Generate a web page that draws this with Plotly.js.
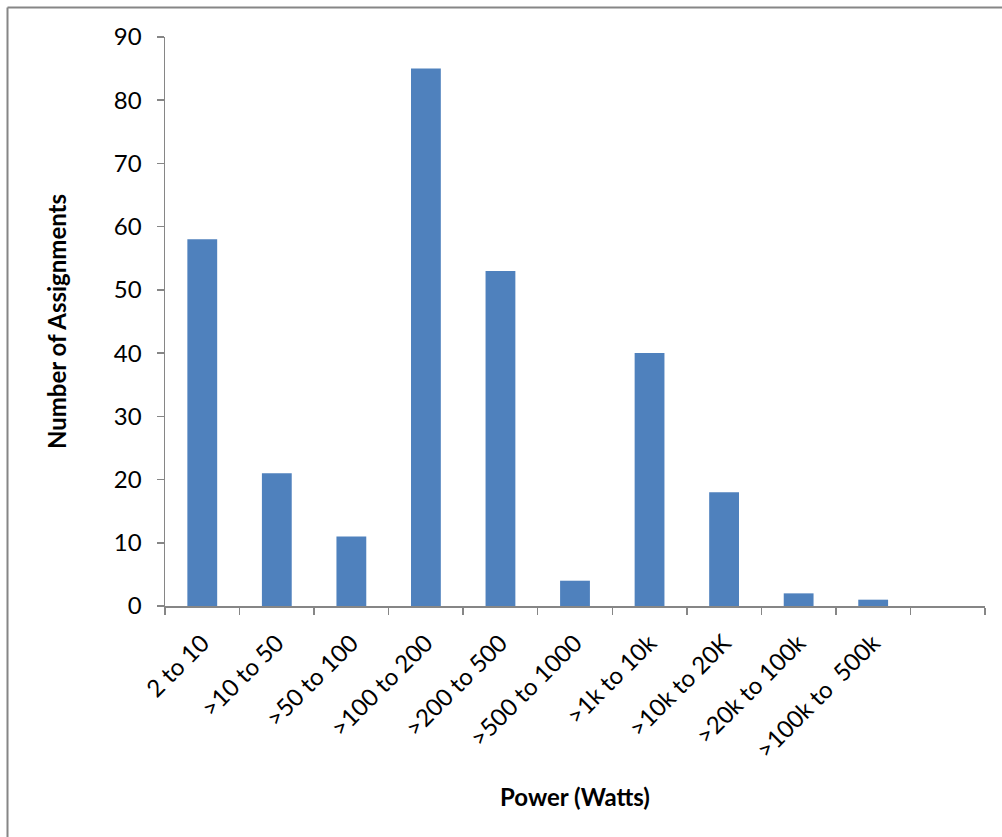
<!DOCTYPE html>
<html>
<head>
<meta charset="utf-8">
<script src="https://cdn.plot.ly/plotly-3.0.1.min.js"></script>
<style>
  html, body { margin: 0; padding: 0; background: #ffffff; }
  #chart { width: 1002px; height: 837px; }
</style>
</head>
<body>
<div id="chart"></div>
<script>
const categories = ["2 to 10", ">10 to 50", ">50 to 100", ">100 to 200", ">200 to 500",
                    ">500 to 1000", ">1k to 10k", ">10k to 20K", ">20k to 100k", ">100k to  500k"];
const assignments = [58, 21, 11, 85, 53, 4, 40, 18, 2, 1];
const yTicks = [0, 10, 20, 30, 40, 50, 60, 70, 80, 90];

// Excel leaves one empty category slot at the right end
const xs = categories.concat([" "]);
const ys = assignments.concat([null]);

const W = 1002, H = 837;
const M = { l: 165, r: 17, t: 37, b: 231 };
const pw = W - M.l - M.r, ph = H - M.t - M.b;
const px = v => (v - M.l) / pw;
const py = v => (H - M.b - v) / ph;

const axisColor = "#868686";
const font = "Lato, 'Open Sans', sans-serif";

const trace = {
  type: "bar",
  x: xs,
  y: ys,
  marker: { color: "#4F81BD", line: { width: 0 } },
  hoverinfo: "x+y"
};

const layout = {
  width: W, height: H,
  margin: M,
  paper_bgcolor: "#ffffff",
  plot_bgcolor: "#ffffff",
  showlegend: false,
  bargap: 0.6,
  font: { family: font, color: "#000000" },
  xaxis: {
    type: "category",
    categoryorder: "array",
    categoryarray: xs,
    range: [-0.5, xs.length - 0.5],
    showline: true, linecolor: axisColor, linewidth: 1.5,
    ticks: "outside", tickson: "boundaries", ticklen: 7, tickcolor: axisColor, tickwidth: 1.5,
    tickangle: -45,
    tickfont: { size: 24, family: font, color: "#000" },
    ticklabelstandoff: 12,
    showgrid: false, zeroline: false,
    title: { text: "<b>Power (Watts)</b>", font: { size: 24, family: font, color: "#000" }, standoff: 27 },
    automargin: false,
    fixedrange: true
  },
  yaxis: {
    range: [0, 90],
    tickmode: "array",
    tickvals: yTicks,
    ticktext: yTicks.map(String),
    showline: true, linecolor: axisColor, linewidth: 1.5,
    ticks: "outside", ticklen: 7, tickcolor: axisColor, tickwidth: 1.5,
    tickfont: { size: 24, family: font, color: "#000" },
    ticklabelstandoff: 10,
    showgrid: false, zeroline: false,
    title: { text: "<b>Number of Assignments</b>", font: { size: 24, family: font, color: "#000" }, standoff: 40 },
    automargin: false,
    fixedrange: true
  },
  shapes: [
    { type: "line", xref: "paper", yref: "paper",
      x0: px(7.5), x1: px(7.5), y0: py(7.5), y1: py(H + 5),
      line: { color: axisColor, width: 2 } },
    { type: "line", xref: "paper", yref: "paper",
      x0: px(7.5), x1: px(W + 5), y0: py(7.5), y1: py(7.5),
      line: { color: axisColor, width: 2 } }
  ]
};

Plotly.newPlot("chart", [trace], layout, { displayModeBar: false, staticPlot: true });
</script>
</body>
</html>
